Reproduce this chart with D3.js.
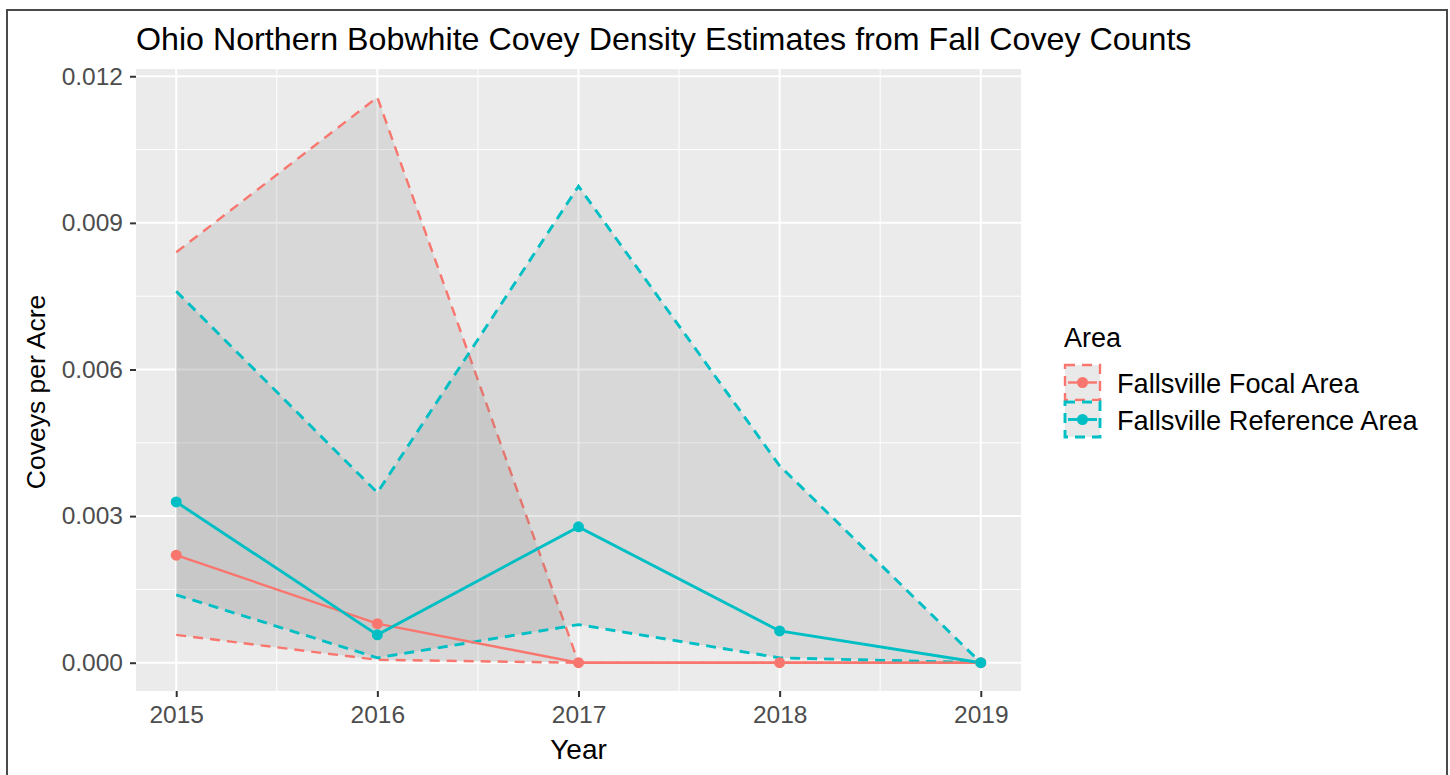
<!DOCTYPE html>
<html>
<head>
<meta charset="utf-8">
<script src="https://cdn.jsdelivr.net/npm/d3@7"></script>
<style>
  body { margin: 0; background: #fff; }
  text { font-family: "Liberation Sans", Arial, sans-serif; }
</style>
</head>
<body>
<svg id="chart" width="1450" height="775"></svg>
<script>
const years = [2015, 2016, 2017, 2018, 2019];
const focalEst = [0.0022, 0.0008, 0, 0, 0];
const focalLow = [0.00057, 0.00006, 0, 0, 0];
const focalHigh = [0.0084, 0.01157, 0, 0, 0];
const refEst = [0.00329, 0.00057, 0.00278, 0.00065, 0];
const refLow = [0.00139, 0.0001, 0.00078, 0.0001, 0];
const refHigh = [0.0076, 0.00348, 0.00975, 0.00403, 0];
const yTicks = [0, 0.003, 0.006, 0.009, 0.012];
const areaNames = ["Fallsville Focal Area", "Fallsville Reference Area"];
const areaColors = ["#F8766D", "#00BFC4"];

const PANEL = { left: 136, right: 1021, top: 69, bottom: 691 };
const RIBBON_FILL = "#7f7f7f";
const RIBBON_ALPHA = 0.17;

// teal strokes look a touch heavier than the red ones in the original
const series = [
  { name: areaNames[0], color: areaColors[0], est: focalEst, low: focalLow, high: focalHigh, lw: 2.4, dw: 2.4 },
  { name: areaNames[1], color: areaColors[1], est: refEst, low: refLow, high: refHigh, lw: 2.9, dw: 2.9 }
];

const svg = d3.select("#chart");

// outer frame
svg.append("rect")
  .attr("x", 7).attr("y", 10)
  .attr("width", 1440).attr("height", 780)
  .attr("fill", "none")
  .attr("stroke", "#4a4a4a")
  .attr("stroke-width", 2);

const xPad = (d3.max(years) - d3.min(years)) * 0.05;
const x = d3.scaleLinear()
  .domain([d3.min(years) - xPad, d3.max(years) + xPad])
  .range([PANEL.left, PANEL.right]);

const yMax = d3.max([...focalHigh, ...refHigh]);
const yPad = yMax * 0.05;
const y = d3.scaleLinear()
  .domain([-yPad, yMax + yPad])
  .range([PANEL.bottom, PANEL.top]);

// panel background
svg.append("rect")
  .attr("x", PANEL.left).attr("y", PANEL.top)
  .attr("width", PANEL.right - PANEL.left)
  .attr("height", PANEL.bottom - PANEL.top)
  .attr("fill", "#EBEBEB");

const grid = svg.append("g");
const minorY = yTicks.slice(0, -1).map(d => d + 0.0015);
const minorX = years.slice(0, -1).map(d => d + 0.5);

grid.selectAll(".minor-y").data(minorY).join("line")
  .attr("x1", PANEL.left).attr("x2", PANEL.right)
  .attr("y1", d => y(d)).attr("y2", d => y(d))
  .attr("stroke", "#fff").attr("stroke-width", 1);
grid.selectAll(".minor-x").data(minorX).join("line")
  .attr("y1", PANEL.top).attr("y2", PANEL.bottom)
  .attr("x1", d => x(d)).attr("x2", d => x(d))
  .attr("stroke", "#fff").attr("stroke-width", 1);
grid.selectAll(".major-y").data(yTicks).join("line")
  .attr("x1", PANEL.left).attr("x2", PANEL.right)
  .attr("y1", d => y(d)).attr("y2", d => y(d))
  .attr("stroke", "#fff").attr("stroke-width", 2);
grid.selectAll(".major-x").data(years).join("line")
  .attr("y1", PANEL.top).attr("y2", PANEL.bottom)
  .attr("x1", d => x(d)).attr("x2", d => x(d))
  .attr("stroke", "#fff").attr("stroke-width", 2);

// ribbons
const area = d3.area()
  .x((d, i) => x(years[i]))
  .y0(d => y(d[0]))
  .y1(d => y(d[1]));
const edge = d3.line()
  .x((d, i) => x(years[i]))
  .y(d => y(d));

series.forEach(s => {
  const band = s.low.map((v, i) => [v, s.high[i]]);
  svg.append("path")
    .attr("d", area(band))
    .attr("fill", RIBBON_FILL)
    .attr("fill-opacity", RIBBON_ALPHA);
  [s.low, s.high].forEach(b => {
    svg.append("path")
      .attr("d", edge(b))
      .attr("fill", "none")
      .attr("stroke", s.color)
      .attr("stroke-width", s.dw)
      .attr("stroke-dasharray", "10,7");
  });
});

// estimate lines
series.forEach(s => {
  svg.append("path")
    .attr("d", edge(s.est))
    .attr("fill", "none")
    .attr("stroke", s.color)
    .attr("stroke-width", s.lw);
});
series.forEach(s => {
  svg.append("g").selectAll("circle")
    .data(s.est)
    .join("circle")
    .attr("cx", (d, i) => x(years[i]))
    .attr("cy", d => y(d))
    .attr("r", 5.5)
    .attr("fill", s.color);
});

// axes
const yAxis = svg.append("g")
  .attr("transform", `translate(${PANEL.left},0)`)
  .call(d3.axisLeft(y).tickValues(yTicks).tickFormat(d3.format(".3f")).tickSize(6).tickPadding(7));
const xAxis = svg.append("g")
  .attr("transform", `translate(0,${PANEL.bottom})`)
  .call(d3.axisBottom(x).tickValues(years).tickFormat(d3.format("d")).tickSize(6).tickPadding(9));
[yAxis, xAxis].forEach(ax => {
  ax.select(".domain").remove();
  ax.selectAll(".tick line").attr("stroke", "#333").attr("stroke-width", 2);
  ax.selectAll(".tick text")
    .attr("fill", "#4D4D4D")
    .style("font-size", "24.5px")
    .style("font-family", "Liberation Sans, Arial, sans-serif");
});

// titles
svg.append("text")
  .attr("x", PANEL.left).attr("y", 50)
  .style("font-size", "32.2px")
  .attr("fill", "#000")
  .text("Ohio Northern Bobwhite Covey Density Estimates from Fall Covey Counts");

svg.append("text")
  .attr("x", (PANEL.left + PANEL.right) / 2).attr("y", 759)
  .attr("text-anchor", "middle")
  .style("font-size", "28px")
  .text("Year");

svg.append("text")
  .attr("transform", `translate(45,392) rotate(-90)`)
  .attr("text-anchor", "middle")
  .style("font-size", "26.5px")
  .text("Coveys per Acre");

// legend
const legend = svg.append("g").attr("transform", "translate(1064,0)");
legend.append("text")
  .attr("x", 0).attr("y", 347)
  .style("font-size", "27px")
  .text("Area");

series.forEach((s, i) => {
  const g = legend.append("g").attr("transform", `translate(0,${364 + i * 37})`);
  g.append("rect")
    .attr("x", 1).attr("y", 1).attr("width", 35).attr("height", 35)
    .attr("fill", RIBBON_FILL).attr("fill-opacity", RIBBON_ALPHA)
    .attr("stroke", s.color).attr("stroke-width", s.dw)
    .attr("stroke-dasharray", "10,7");
  g.append("line")
    .attr("x1", 4).attr("x2", 33).attr("y1", 18.5).attr("y2", 18.5)
    .attr("stroke", s.color).attr("stroke-width", s.lw);
  g.append("circle")
    .attr("cx", 18.5).attr("cy", 18.5).attr("r", 5.5).attr("fill", s.color);
  g.append("text")
    .attr("x", 53).attr("y", 29)
    .style("font-size", "27.2px")
    .attr("fill", "#000")
    .text(s.name);
});
</script>
</body>
</html>
